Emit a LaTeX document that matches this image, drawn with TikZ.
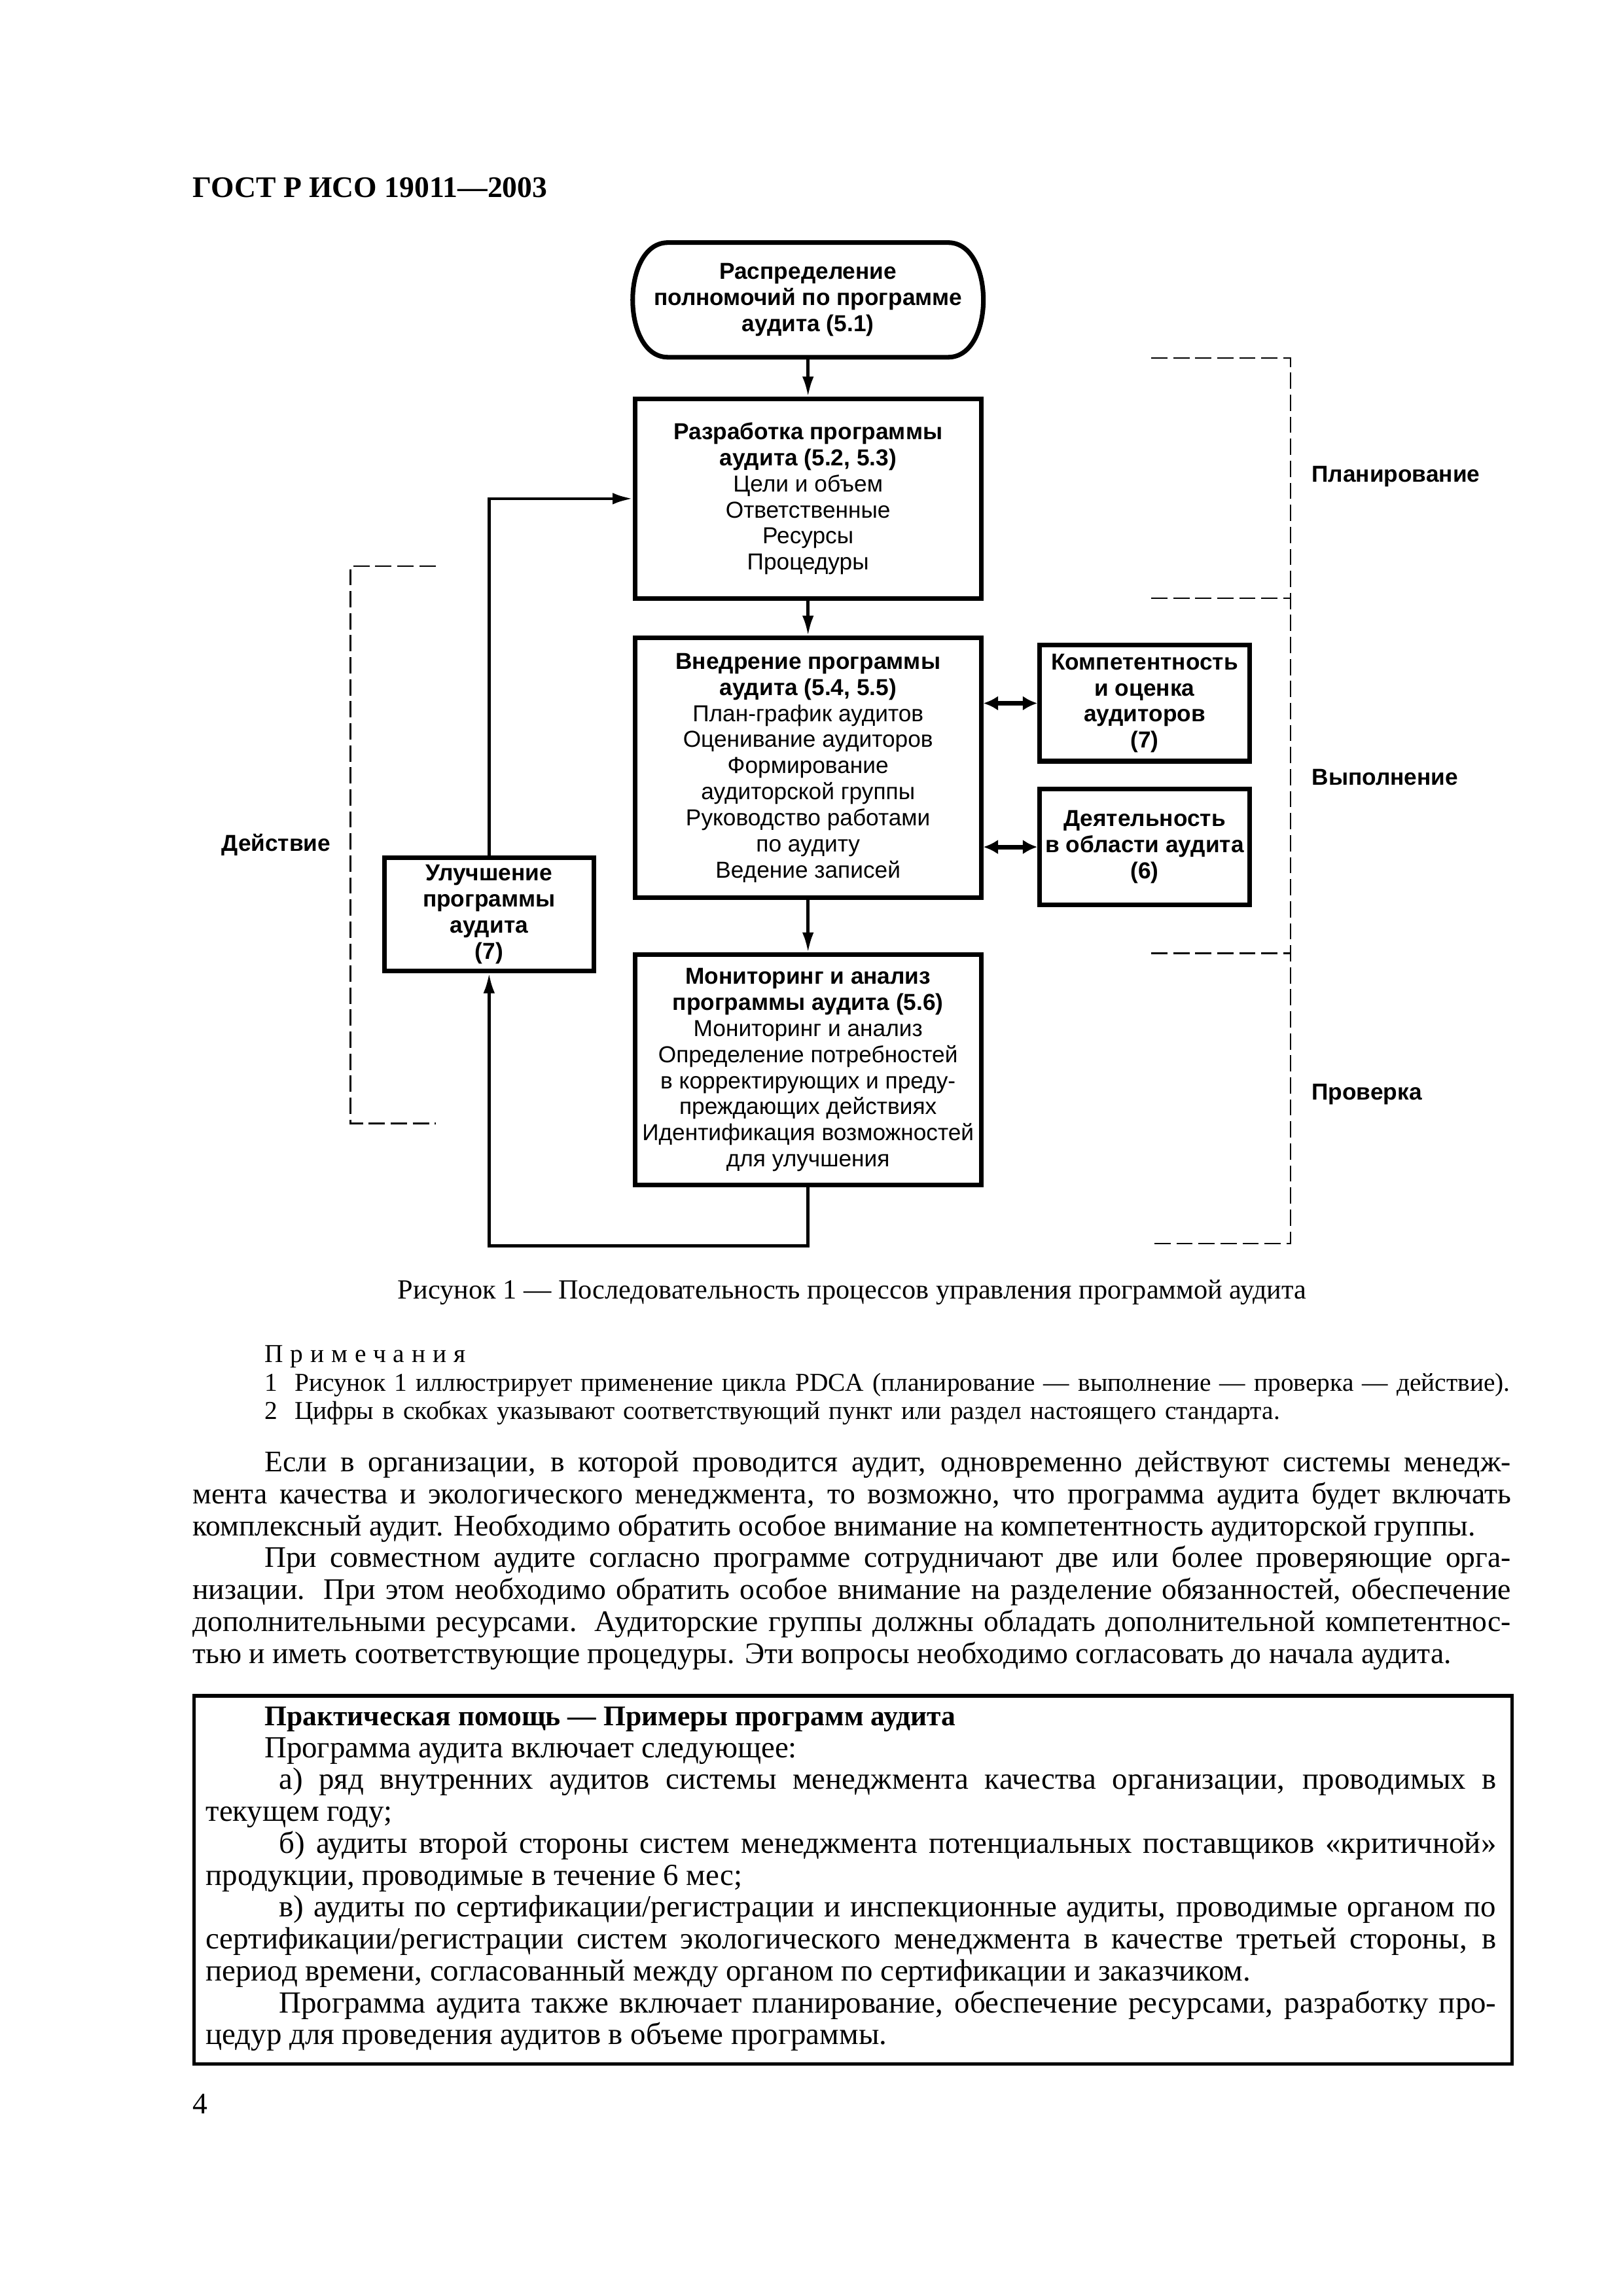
\documentclass[tikz,border=0pt]{standalone}
\usepackage{fontspec}
\setmainfont{Liberation Serif}
\setsansfont{Liberation Sans}
\usetikzlibrary{arrows.meta,calc}
\newlength\pxu
\setlength\pxu{0.18982mm}

\tikzset{
  box/.style={draw, line width=1.7pt, align=center, inner sep=0pt,
    font=\sffamily\fontsize{8.5}{9.6}\selectfont},
  mainbox/.style={box, minimum width=236\pxu},
  sidebox/.style={box, minimum width=143\pxu, minimum height=79\pxu},
  arr/.style={line width=1.1pt, -{Latex[length=2.6mm,width=1.5mm]}},
  dblarr/.style={line width=1.7pt, {Latex[length=1.9mm,width=1.9mm]}-{Latex[length=1.9mm,width=1.9mm]}},
  stagebracket/.style={line width=0.6pt, dash pattern=on 2.1mm off 0.75mm},
  stagelabel/.style={font=\sffamily\bfseries\fontsize{8.5}{10}\selectfont},
  pagetext/.style={inner sep=0pt, align=justify, font=\fontsize{11}{11.75}\selectfont},
}

\begin{document}
\begin{tikzpicture}[x=\pxu,y=-\pxu]
\useasboundingbox (0,0) rectangle (1106.3,1565.5);

% header of the page
\node[anchor=base west, inner sep=0pt, font=\bfseries\fontsize{11}{13}\selectfont] (title) at (131,134.5) {ГОСТ Р ИСО 19011—2003};

% boxes of the flow chart
\node[mainbox, draw=none, minimum height=75\pxu] (dist) at (551,204.5)
  {\textbf{Распределение}\\ \textbf{полномочий по программе}\\ \textbf{аудита (5.1)}};
\draw[line width=1.7pt] ($(dist.north west)+(24,0)$) -- ($(dist.north east)+(-24,0)$)
  .. controls ($(dist.north east)+(8,0)$) and ($(dist.south east)+(8,0)$) .. ($(dist.south east)+(-24,0)$)
  -- ($(dist.south west)+(24,0)$)
  .. controls ($(dist.south west)+(-8,0)$) and ($(dist.north west)+(-8,0)$) .. cycle;

\node[mainbox, minimum height=136\pxu] (plan) at (551,340)
  {\textbf{Разработка программы}\\ \textbf{аудита (5.2, 5.3)}\\ Цели и объем\\ Ответственные\\ Ресурсы\\ Процедуры};
\node[mainbox, minimum height=177\pxu] (impl) at (551,523.5)
  {\textbf{Внедрение программы}\\ \textbf{аудита (5.4, 5.5)}\\ План-график аудитов\\ Оценивание аудиторов\\
   Формирование\\ аудиторской группы\\ Руководство работами\\ по аудиту\\ Ведение записей};
\node[mainbox, minimum height=157\pxu] (check) at (551,729.5)
  {\textbf{Мониторинг и анализ}\\ \textbf{программы аудита (5.6)}\\ Мониторинг и анализ\\ Определение потребностей\\
   в корректирующих и преду-\\ преждающих действиях\\ Идентификация возможностей\\ для улучшения};
\node[sidebox] (comp) at (780.5,479.5)
  {\textbf{Компетентность}\\ \textbf{и оценка}\\ \textbf{аудиторов}\\ \textbf{(7)}};
\node[sidebox] (audact) at (780.5,577.5)
  {\textbf{Деятельность}\\ \textbf{в области аудита}\\ \textbf{(6)}};
\node[sidebox, minimum height=77\pxu] (improve) at (333.5,623.5)
  {\textbf{Улучшение}\\ \textbf{программы}\\ \textbf{аудита}\\ \textbf{(7)}};

% connectors
\draw[arr] (dist) -- (plan);
\draw[arr] (plan) -- (impl);
\draw[arr] (impl) -- (check);
\draw[dblarr] (impl.east |- comp.west) -- (comp.west);
\draw[dblarr] (impl.east |- audact.west) -- (audact.west);
\draw[arr] (check.south) -- ++(0,40) -| (improve.south);
\draw[arr] (improve.north) |- (plan.west);

% PDCA stages
\draw[stagebracket] (785,244) -- (880,244) -- (880,848) -- (785,848);
\draw[stagebracket] (785,408) -- (880,408);
\draw[stagebracket] (785,650) -- (880,650);
\draw[stagebracket] (297,386) -- (239,386) -- (239,766) -- (297,766);
\node[stagelabel, anchor=west] (lplan) at (888,325) {Планирование};
\node[stagelabel, anchor=west] (ldo) at (888,530) {Выполнение};
\node[stagelabel, anchor=west] (lcheck) at (888,746) {Проверка};
\node[stagelabel, anchor=east] (lact) at (232,576) {Действие};

% caption and notes
\node[anchor=base, inner sep=0pt, font=\fontsize{10.2}{12}\selectfont] (caption) at (581,885.5)
  {Рисунок 1 — Последовательность процессов управления программой аудита};
\node[anchor=base west, inner sep=0pt, text width=870\pxu, align=left, font=\fontsize{9.5}{10.5}\selectfont] (notes) at (180,929)
  {{\addfontfeature{LetterSpace=28}Примечания}\\
   1~~Рисунок 1 иллюстрирует применение цикла PDCA (планирование — выполнение — проверка — действие).\\
   2~~Цифры в скобках указывают соответствующий пункт или раздел настоящего стандарта.};

% running text
\node[pagetext, anchor=base west, text width=899\pxu] (body) at (131,1003.5)
  {\hspace*{49\pxu}Если в организации, в которой проводится аудит, одновременно действуют системы менедж-\linebreak
   мента качества и экологического менеджмента, то возможно, что программа аудита будет включать\linebreak
   комплексный аудит. Необходимо обратить особое внимание на компетентность аудиторской группы.\par
   \hspace*{49\pxu}При совместном аудите согласно программе сотрудничают две или более проверяющие орга-\linebreak
   низации. При этом необходимо обратить особое внимание на разделение обязанностей, обеспечение\linebreak
   дополнительными ресурсами. Аудиторские группы должны обладать дополнительной компетентнос-\linebreak
   тью и иметь соответствующие процедуры. Эти вопросы необходимо согласовать до начала аудита.};

% practical help box
\node[draw, line width=1.3pt, anchor=north west, inner sep=0pt, minimum width=899\pxu, minimum height=251\pxu] (helpbox) at (131,1155) {};
\node[pagetext, anchor=base west, text width=880\pxu, font=\fontsize{11.3}{11.75}\selectfont] (helptext) at (140,1176.5)
  {\hspace*{40\pxu}{\bfseries\fontsize{10.5}{11.75}\selectfont Практическая помощь — Примеры программ аудита}\par
   \hspace*{40\pxu}Программа аудита включает следующее:\par
   \hspace*{50\pxu}а)~ряд внутренних аудитов системы менеджмента качества организации, проводимых в\linebreak
   текущем году;\par
   \hspace*{50\pxu}б)~аудиты второй стороны систем менеджмента потенциальных поставщиков «критичной»\linebreak
   продукции, проводимые в течение 6 мес;\par
   \hspace*{50\pxu}в)~аудиты по сертификации/регистрации и инспекционные аудиты, проводимые органом по\linebreak
   сертификации/регистрации систем экологического менеджмента в качестве третьей стороны, в\linebreak
   период времени, согласованный между органом по сертификации и заказчиком.\par
   \hspace*{50\pxu}Программа аудита также включает планирование, обеспечение ресурсами, разработку про-\linebreak
   цедур для проведения аудитов в объеме программы.};

% page number
\node[anchor=base west, inner sep=0pt, font=\fontsize{11}{13}\selectfont] (pagenum) at (131,1441) {4};
\end{tikzpicture}
\end{document}
